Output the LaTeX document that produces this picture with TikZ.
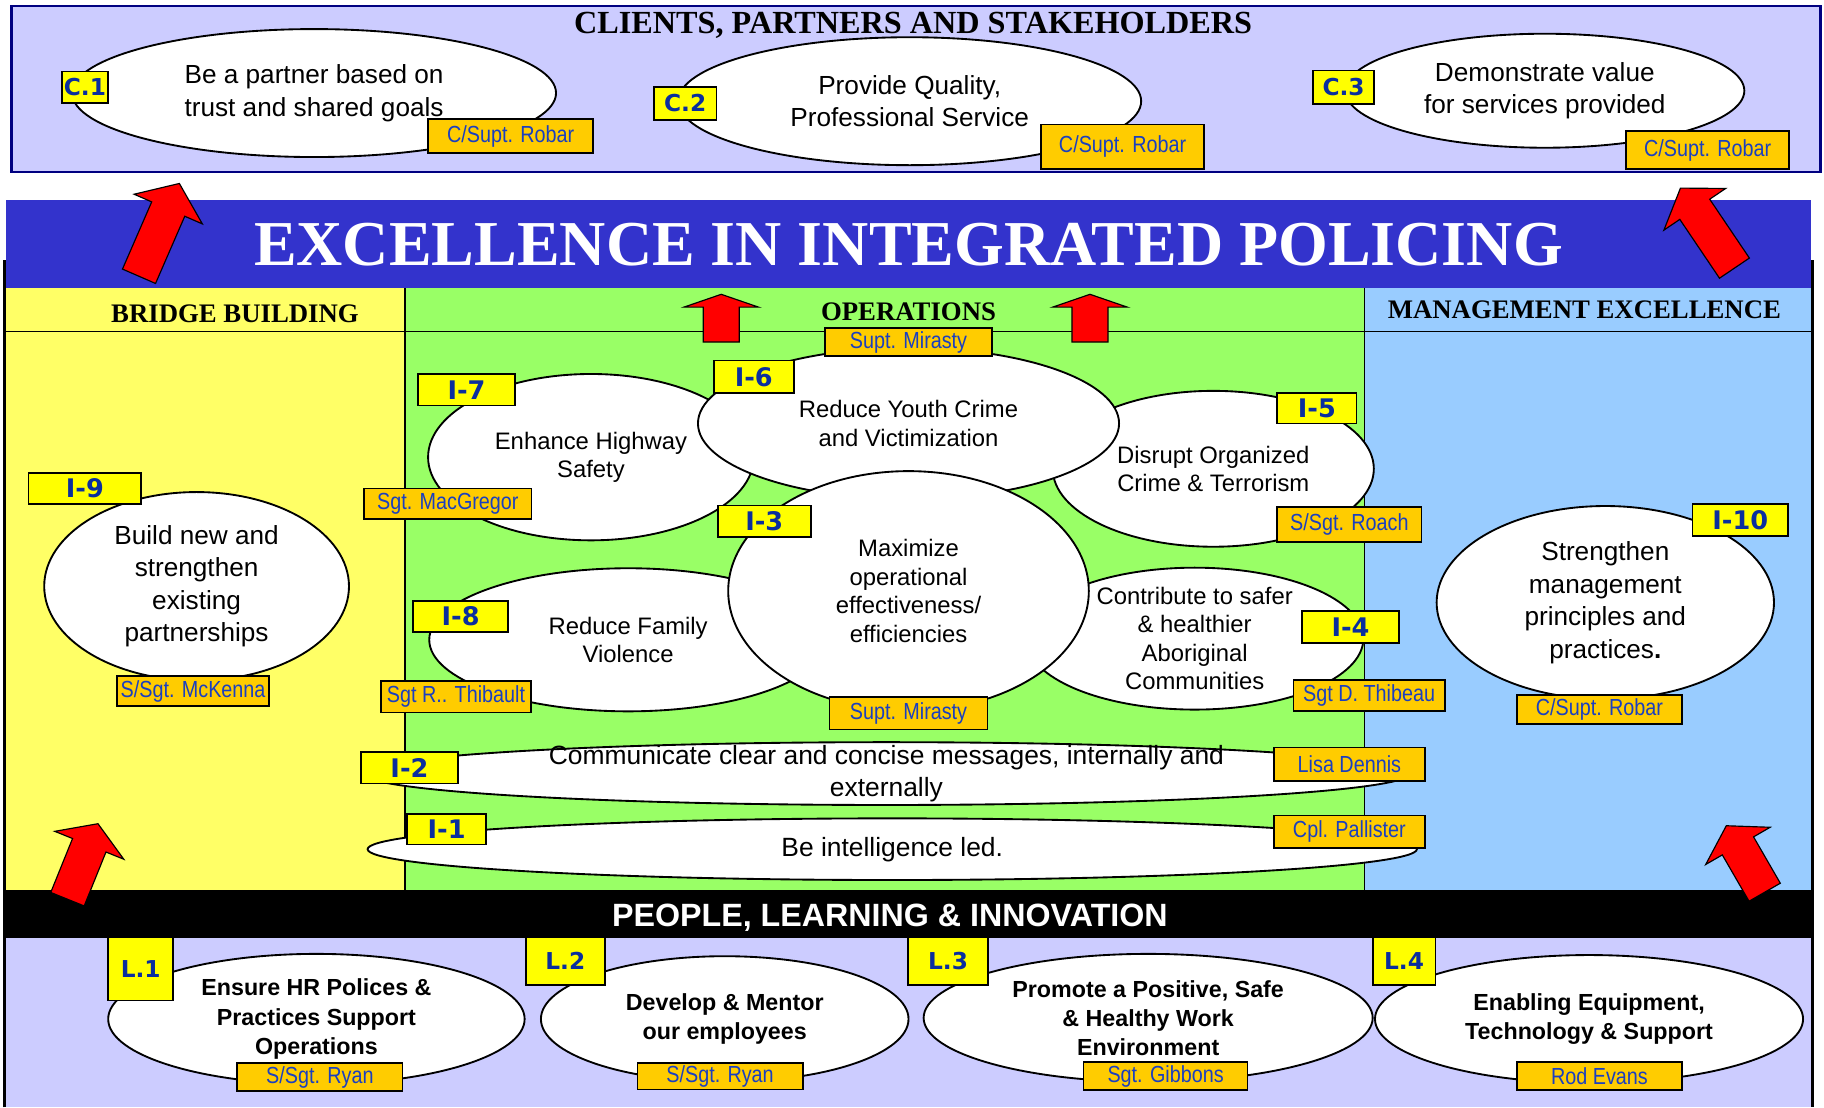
\documentclass[tikz,border=0pt]{standalone}
\usepackage{fontspec}
\setmainfont{Liberation Sans}
\newfontfamily\titlefont{Liberation Serif}
\newfontfamily\tagfont{DejaVu Sans}
\newfontfamily\ownerfont{Liberation Sans}[FakeStretch=0.85]
\usetikzlibrary{shapes.geometric}

\definecolor{lavender}{HTML}{CCCCFF}
\definecolor{bannerblue}{HTML}{3333CC}
\definecolor{bridgeyellow}{HTML}{FFFF66}
\definecolor{opsgreen}{HTML}{99FF66}
\definecolor{mgmtblue}{HTML}{99CCFF}
\definecolor{tagyellow}{HTML}{FFFF00}
\definecolor{ownerorange}{HTML}{FFCC00}
\definecolor{tagtext}{HTML}{0A2E9E}
\definecolor{ownertext}{HTML}{1A3FC0}
\definecolor{framenavy}{HTML}{000080}

\tikzset{
	goal/.style = {ellipse, draw, fill=white, line width=1.6pt, align=center, inner xsep=0pt, inner ysep=-8pt},
	goalC/.style = {font=\fontsize{22.5}{28}\selectfont},
	goalI/.style = {font=\fontsize{20.5}{24.5}\selectfont},
	goalL/.style = {font=\bfseries\fontsize{20}{25}\selectfont},
	tag/.style = {draw, fill=tagyellow, line width=1.5pt, text=tagtext, inner sep=0pt, font=\tagfont\bfseries\fontsize{20}{24}\selectfont},
	bigtag/.style = {tag, font=\tagfont\bfseries\fontsize{22}{26}\selectfont},
	owner/.style = {draw, fill=ownerorange, line width=1.5pt, text=ownertext, inner sep=0pt, font=\ownerfont\fontsize{20}{23}\selectfont},
	heading/.style = {font=\titlefont\bfseries\fontsize{23}{27}\selectfont},
	redarrow/.style = {fill=red, draw=black, line width=1pt, line join=miter}
}

% red arrow: tail middle x, y, tilt, shaft length, head length
\newcommand{\redarrow}[5]{%
	\filldraw[redarrow, shift={(#1,#2)}, rotate=#3]
		(-15.5,0) -- (-15.5,-#4) -- (-32,-#4) -- (0,-#4-#5) -- (32,-#4) -- (15.5,-#4) -- (15.5,0) -- cycle;
}

\begin{document}
\begin{tikzpicture}[x=1pt, y=-1pt]
	\def\xL{4}          % left edge of the frame
	\def\xA{348}        % bridge building | operations
	\def\xB{1173}       % operations | management excellence
	\def\xR{1558}       % right edge of the frame

	\useasboundingbox (0,0) rectangle (1568,952);
	\fill[white] (0,0) rectangle (1568,952);

	% Clients, partners and stakeholders
	\filldraw[fill=lavender, draw=framenavy, line width=2pt] (10,5) rectangle (1565,148);
	\node[heading, font=\titlefont\bfseries\fontsize{27.7}{31}\selectfont] (clients) at (785,22) {CLIENTS, PARTNERS AND STAKEHOLDERS};
	\node[goal, goalC, minimum width=416, minimum height=110] (c1) at (270,80) {Be a partner based on\\trust and shared goals};
	\node[goal, goalC, minimum width=398, minimum height=110] (c2) at (782,87) {Provide Quality,\\Professional Service};
	\node[goal, goalC, minimum width=343, minimum height=98] (c3) at (1328,78) {Demonstrate value\\for services provided};

	% the three pillars
	\fill[bridgeyellow] (\xL,248) rectangle (\xA,765);
	\fill[opsgreen] (\xA,248) rectangle (\xB,765);
	\fill[mgmtblue] (\xB,248) rectangle (\xR,765);
	\fill[black] (\xL,765) rectangle (\xR,806);
	\fill[lavender] (\xL,806) rectangle (\xR,952);
	\draw[line width=2.5pt] (\xL,952) -- (\xL,225) -- (\xR,225) -- (\xR,952);
	\draw[line width=1.5pt] (\xL,285) -- (\xR,285) (\xA,248) -- (\xA,765) (\xB,248) -- (\xB,765);

	% vision banner
	\fill[bannerblue] (5,172) rectangle (1557,248);
	\node[text=white, font=\titlefont\bfseries\fontsize{55}{60}\selectfont] (vision) at (781,210) {EXCELLENCE IN INTEGRATED POLICING};

	\node[heading] (bridge) at (202,270) {BRIDGE BUILDING};
	\node[heading] (ops) at (781,268) {OPERATIONS};
	\node[heading] (mgmt) at (1362,266) {MANAGEMENT EXCELLENCE};
	\node[text=white, font=\bfseries\fontsize{27.7}{31}\selectfont] (people) at (765,789) {PEOPLE, LEARNING \& INNOVATION};

	% operations
	\node[goal, goalI, minimum width=280, minimum height=143] (i7) at (508,393) {Enhance Highway\\Safety};
	\node[goal, goalI, minimum width=276, minimum height=134] (i5) at (1043,403) {Disrupt Organized\\Crime \& Terrorism};
	\node[goal, goalI, minimum width=342, minimum height=123] (i8) at (540,550) {Reduce Family\\Violence};
	\node[goal, goalI, minimum width=290, minimum height=122] (i4) at (1027,549) {Contribute to safer\\\& healthier\\Aboriginal\\Communities};
	\node[goal, goalI, minimum width=362, minimum height=130] (i6) at (781,364) {Reduce Youth Crime\\and Victimization};
	\node[goal, goalI, minimum width=310, minimum height=206] (i3) at (781,508) {Maximize\\operational\\effectiveness/\\efficiencies};
	\node[goal, font=\fontsize{22.7}{28}\selectfont, inner ysep=-10pt, minimum width=900, minimum height=54] (i2) at (762,665) {Communicate clear and concise messages, internally and\\externally};
	\node[goal, font=\fontsize{22.7}{26}\selectfont, minimum width=902, minimum height=53] (i1) at (767,730) {Be intelligence led.};

	% bridge building and management excellence
	\node[goal, goalC, minimum width=262, minimum height=162] (i9) at (169,504) {Build new and\\strengthen\\existing\\partnerships};
	\node[goal, goalC, minimum width=290, minimum height=166] (i10) at (1380,518) {Strengthen\\management\\principles and\\practices\textbf{.}};

	% people, learning and innovation
	\node[goal, goalL, minimum width=358, minimum height=112] (l1) at (272,876) {Ensure HR Polices \&\\Practices Support\\Operations};
	\node[goal, goalL, minimum width=316, minimum height=108] (l2) at (623,876) {Develop \& Mentor\\our employees};
	\node[goal, goalL, minimum width=386, minimum height=110] (l3) at (987,875) {Promote a Positive, Safe\\\& Healthy Work\\Environment};
	\node[goal, goalL, minimum width=368, minimum height=110] (l4) at (1366,876) {Enabling Equipment,\\Technology \& Support};

	% objective numbers
	\foreach \n/\x/\y/\bw/\bh/\txt in {c1/73/75/40/27/C.1, c2/589/89/54/28/C.2, c3/1155/75/52/29/C.3,
			l1/121/833/56/54/L.1, l2/486/826/68/41/L.2, l3/815/826/69/41/L.3, l4/1207/826/54/41/L.4}
		\node[tag, minimum width=\bw, minimum height=\bh] (tag\n) at (\x,\y) {\txt};
	\foreach \n/\x/\y/\bw/\bh/\txt in {i7/401/335/83/27/I-7, i6/648/324/69/28/I-6, i5/1132/351/68/26/I-5,
			i3/657/448/80/27/I-3, i8/396/530/82/27/I-8, i4/1161/539/83/28/I-4, i9/73/420/97/27/I-9,
			i10/1496/447/82/27/I-10, i2/352/660/83/27/I-2, i1/384/713/68/26/I-1}
		\node[bigtag, minimum width=\bw, minimum height=\bh] (tag\n) at (\x,\y) {\txt};

	% owners
	\foreach \n/\x/\y/\bw/\bh/\txt in {c1/439/117/142/29/{C/Supt. Robar}, c2/965/126/140/38/{C/Supt. Robar},
			c3/1468/129/140/33/{C/Supt. Robar}, i6/781/294/143/24/{Supt. Mirasty}, i7/385/433/144/26/{Sgt. MacGregor},
			i5/1160/451/124/30/{S/Sgt. Roach}, i3/781/613/136/28/{Supt. Mirasty}, i8/392/599/129/27/{Sgt R.. Thibault},
			i4/1177/598/130/27/{Sgt D. Thibeau}, i9/166/594/131/26/{S/Sgt. McKenna}, i10/1375/610/142/25/{C/Supt. Robar},
			i2/1160/657/130/29/{Lisa Dennis}, i1/1160/715/130/28/{Cpl. Pallister},
			l1/275/926/142/24/{S/Sgt. Ryan}, l2/619/925/142/23/{S/Sgt. Ryan}, l3/1002/925/141/24/{Sgt. Gibbons},
			l4/1375/925/142/24/{Rod Evans}}
		\node[owner, minimum width=\bw, minimum height=\bh] (own\n) at (\x,\y) {\txt};

	% arrows pointing up to the clients
	\redarrow{119.5}{237.5}{-23.5}{63}{24}
	\redarrow{1491}{230.5}{34}{61}{22}
	\redarrow{58}{773}{-22}{50}{20}
	\redarrow{1517}{767}{30}{46}{20}
	\redarrow{620}{294}{0}{30}{11}
	\redarrow{937}{294}{0}{30}{11}
\end{tikzpicture}
\end{document}
